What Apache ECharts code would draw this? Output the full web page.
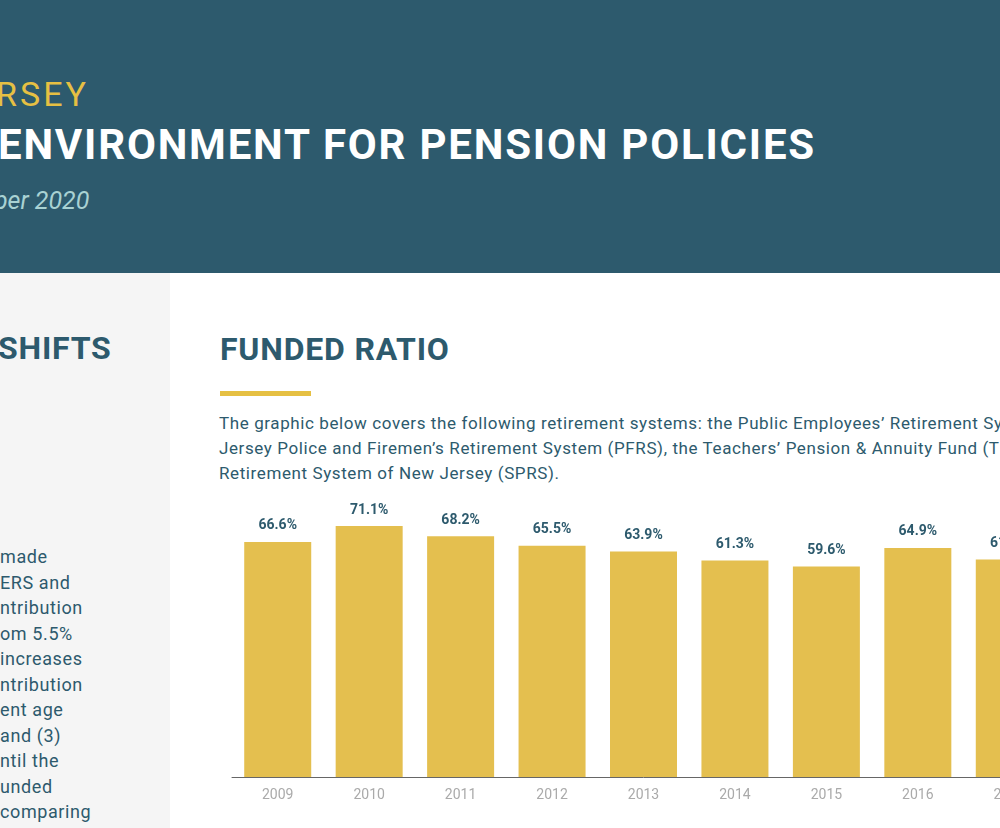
<!DOCTYPE html>
<html><head><meta charset="utf-8">
<script src="https://cdn.jsdelivr.net/npm/echarts@6/dist/echarts.min.js"></script>
<style>
body{margin:0;width:1000px;height:828px;overflow:hidden;position:relative;font-family:Roboto,"DejaVu Sans",sans-serif;background:#fff}
#hdr{position:absolute;left:0;top:0;width:1000px;height:273px;background:#2d5a6d}
.t{position:absolute;white-space:nowrap}
#side{position:absolute;left:0;top:273px;width:170px;height:555px;background:#f5f5f5}
#side p{margin:0;position:absolute;left:0;top:271px;font-size:18px;line-height:25.5px;color:#2d5a6d;letter-spacing:0.6px}
#chart{position:absolute;left:200px;top:490px;width:1000px;height:338px}
</style></head><body>
<div id="hdr">
  <div class="t" style="left:-4px;top:74px;font-size:34px;color:#e6c043;letter-spacing:3px">RSEY</div>
  <div class="t" style="left:-2px;top:120px;font-size:42px;font-weight:700;color:#fff;letter-spacing:1.8px">ENVIRONMENT FOR PENSION POLICIES</div>
  <div class="t" style="left:-6px;top:186px;font-size:25px;font-style:italic;color:#a9d2d3">ber 2020</div>
</div>
<div id="side">
  <div class="t" style="left:-2px;top:56px;font-size:32px;font-weight:700;color:#2d5a6d;letter-spacing:0.8px">SHIFTS</div>
  <p>made<br>ERS and<br>ntribution<br>om 5.5%<br>increases<br>ntribution<br>ent age<br>and (3)<br>ntil the<br>unded<br>comparing</p>
</div>
<div class="t" style="left:220px;top:330px;font-size:32px;font-weight:700;color:#2d5a6d;letter-spacing:0.8px">FUNDED RATIO</div>
<div style="position:absolute;left:220px;top:391px;width:91px;height:5px;background:#e6c043"></div>
<div class="t" style="left:219px;top:411px;font-size:17px;line-height:25px;color:#2d5a6d;letter-spacing:0.6px">The graphic below covers the following retirement systems: the Public Employees’ Retirement System (PERS), the New<br>Jersey Police and Firemen’s Retirement System (PFRS), the Teachers’ Pension &amp; Annuity Fund (TPAF), and the State Police<br>Retirement System of New Jersey (SPRS).</div>
<div id="chart"></div>
<script>
const years = ['2009','2010','2011','2012','2013','2014','2015','2016','2017'];
const funded = [66.6, 71.1, 68.2, 65.5, 63.9, 61.3, 59.6, 64.9, 61.6];

const chart = echarts.init(document.getElementById('chart'));
chart.setOption({
  animation: false,
  grid: {left: 32, top: 0, width: 823, height: 287},
  xAxis: {
    type: 'category', data: years,
    axisLine: {lineStyle: {color: '#666', width: 1}},
    axisTick: {show: false},
    axisLabel: {color: '#aaa', fontSize: 14, margin: 11, fontFamily: 'Roboto'}
  },
  yAxis: {type: 'value', min: 0, max: 81.3, show: false, splitLine: {show: false}},
  series: [{
    type: 'bar', data: funded, barWidth: 67,
    itemStyle: {color: '#e4bf4f'},
    label: {show: true, position: 'top', distance: 9, formatter: '{c}%',
      color: '#2d5a6d', fontWeight: 'bold', fontSize: 14, fontFamily: 'Roboto'}
  }]
});
</script>
</body></html>
